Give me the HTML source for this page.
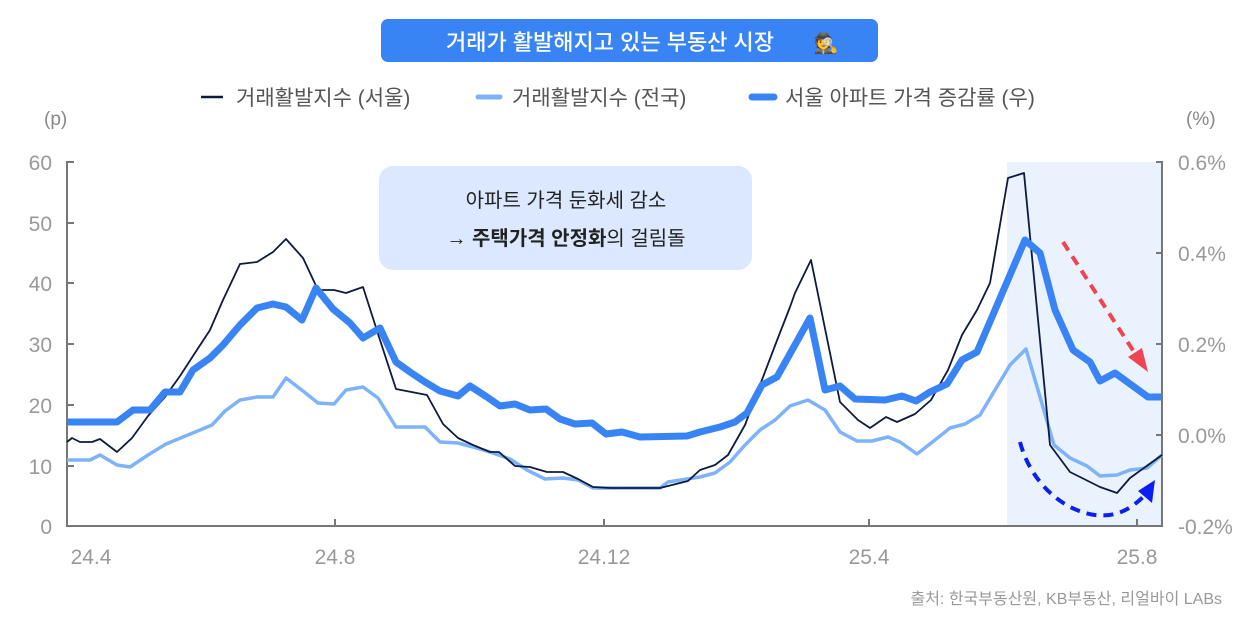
<!DOCTYPE html>
<html><head><meta charset="utf-8"><style>
body{margin:0;background:#fff;}
svg text{font-family:"Liberation Sans","Noto Sans CJK KR",sans-serif;}
</style></head><body>
<svg width="1260" height="622" viewBox="0 0 1260 622" xmlns="http://www.w3.org/2000/svg">
<rect width="1260" height="622" fill="#fff"/>
<rect x="381" y="19" width="497" height="43" rx="7" fill="#3884f5"/>
<text x="610" y="50" font-size="22" fill="#fff" text-anchor="middle" font-weight="500">거래가 활발해지고 있는 부동산 시장</text>
<text x="826" y="50" font-size="20" text-anchor="middle">🕵</text>
<!-- legend -->
<line x1="201" y1="97" x2="223" y2="97" stroke="#0d1b3e" stroke-width="2.5"/>
<text x="236" y="105" font-size="21" fill="#555">거래활발지수 (서울)</text>
<line x1="478" y1="97" x2="500" y2="97" stroke="#7fb3f9" stroke-width="5" stroke-linecap="round"/>
<text x="512" y="105" font-size="21" fill="#555">거래활발지수 (전국)</text>
<line x1="752" y1="97" x2="774" y2="97" stroke="#3884f5" stroke-width="7" stroke-linecap="round"/>
<text x="785" y="105" font-size="21" fill="#555">서울 아파트 가격 증감률 (우)</text>
<text x="44" y="125" font-size="19" fill="#888">(p)</text>
<text x="1186" y="125" font-size="19" fill="#888">(%)</text>
<!-- shaded -->
<rect x="1007" y="162" width="155" height="364" fill="#eaf2fe"/>
<!-- annotation box -->
<rect x="379" y="166" width="373" height="104" rx="14" fill="#dbe8fd"/>
<text x="566" y="207" font-size="20" fill="#222" text-anchor="middle">아파트 가격 둔화세 감소</text>
<text x="566" y="245" font-size="20" fill="#222" text-anchor="middle">→ <tspan font-weight="bold">주택가격 안정화</tspan>의 걸림돌</text>
<!-- axes -->
<g stroke="#777" stroke-width="2" fill="none">
<polyline points="74,162 67,162 67,526 1162,526 1162,162 1156,162"/>
<line x1="67" y1="223" x2="74" y2="223"/><line x1="67" y1="283" x2="74" y2="283"/><line x1="67" y1="344" x2="74" y2="344"/><line x1="67" y1="405" x2="74" y2="405"/><line x1="67" y1="466" x2="74" y2="466"/>
<line x1="1162" y1="253" x2="1156" y2="253"/><line x1="1162" y1="344" x2="1156" y2="344"/><line x1="1162" y1="435" x2="1156" y2="435"/>
<line x1="335" y1="526" x2="335" y2="519"/><line x1="604" y1="526" x2="604" y2="519"/><line x1="869" y1="526" x2="869" y2="519"/><line x1="1137" y1="526" x2="1137" y2="519"/>
</g>
<g font-size="21" fill="#999" text-anchor="end">
<text x="52" y="170">60</text><text x="52" y="231">50</text><text x="52" y="291">40</text><text x="52" y="352">30</text><text x="52" y="413">20</text><text x="52" y="474">10</text><text x="52" y="534">0</text>
</g>
<g font-size="21" fill="#999">
<text x="1178" y="170">0.6%</text><text x="1178" y="261">0.4%</text><text x="1178" y="352">0.2%</text><text x="1178" y="443">0.0%</text><text x="1178" y="534">-0.2%</text>
</g>
<g font-size="21" fill="#999" text-anchor="middle">
<text x="91" y="564">24.4</text><text x="335" y="564">24.8</text><text x="604" y="564">24.12</text><text x="869" y="564">25.4</text><text x="1137" y="564">25.8</text>
</g>
<!-- light line -->
<polyline fill="none" stroke="#7fb3f9" stroke-width="3.5" stroke-linejoin="round" points="67,460 90,460 100,455 117,465 130,467 148,455 166,444 183,437 200,430 212,425 225,411 240,400 257,397 273,397 286,378 303,391 318,403 334,404 346,390 363,387 378,398 396,427 410,427 425,427 440,442 458,443 473,447 490,452 510,459 527,470 545,479 563,478 578,480 593,488 660,488 668,482 700,477 715,473 730,462 745,445 760,430 775,420 790,406 808,400 825,410 840,432 857,441 872,441 888,437 900,442 917,454 935,440 950,428 965,424 980,415 1010,365 1026,349 1054,445 1070,458 1087,466 1100,476 1117,475 1130,470 1147,468 1162,455"/>
<!-- dark line -->
<polyline fill="none" stroke="#0d1b3e" stroke-width="1.8" stroke-linejoin="round" points="67,442 72,438 80,442 92,442 100,439 117,452 132,438 148,416 165,397 180,376 193,356 210,330 223,300 240,264 257,262 273,252 286,239 303,258 318,290 334,290 346,293 363,287 380,340 396,389 427,395 443,424 458,438 473,445 490,452 499,452 515,466 530,467 547,472 563,472 578,479 593,487 610,488 660,488 672,485 688,481 700,470 715,465 728,455 745,425 760,385 776,343 790,307 795,293 811,260 840,402 858,420 870,428 886,417 897,422 915,414 931,400 948,370 962,335 977,310 990,283 1008,178 1024,173 1050,445 1070,472 1100,487 1117,493 1130,478 1162,455"/>
<!-- thick blue -->
<polyline fill="none" stroke="#3884f5" stroke-width="7" stroke-linejoin="round" points="67,422 117,422 133,410 150,410 165,392 180,392 193,370 210,358 223,345 240,325 257,308 273,304 286,307 302,320 316,288 333,309 350,323 363,338 380,328 396,362 410,372 425,382 440,391 458,396 470,386 487,397 500,406 515,404 530,410 546,409 560,419 575,424 592,423 606,434 622,432 640,437 687,436 700,432 720,427 735,422 747,413 762,385 777,377 810,318 825,390 840,386 855,399 885,400 902,396 916,401 930,392 947,384 962,360 977,352 1025,240 1040,253 1055,310 1073,350 1090,362 1100,381 1115,373 1148,397 1162,397"/>
<!-- red dashed arrow -->
<line x1="1063" y1="242" x2="1136" y2="355" stroke="#f04452" stroke-width="4" stroke-dasharray="10,7"/>
<polygon points="1148,372 1128,357 1142,348" fill="#f04452"/>
<!-- blue dashed arc -->
<path d="M1020,442 C1030,480 1060,510 1095,515 C1120,518 1135,505 1145,495" fill="none" stroke="#0a1ff0" stroke-width="4" stroke-dasharray="10,7"/>
<polygon points="1155,480 1152,503 1138,491" fill="#0a1ff0"/>
<text x="1222" y="604" font-size="16" fill="#999" text-anchor="end">출처: 한국부동산원, KB부동산, 리얼바이 LABs</text>
</svg>
</body></html>
